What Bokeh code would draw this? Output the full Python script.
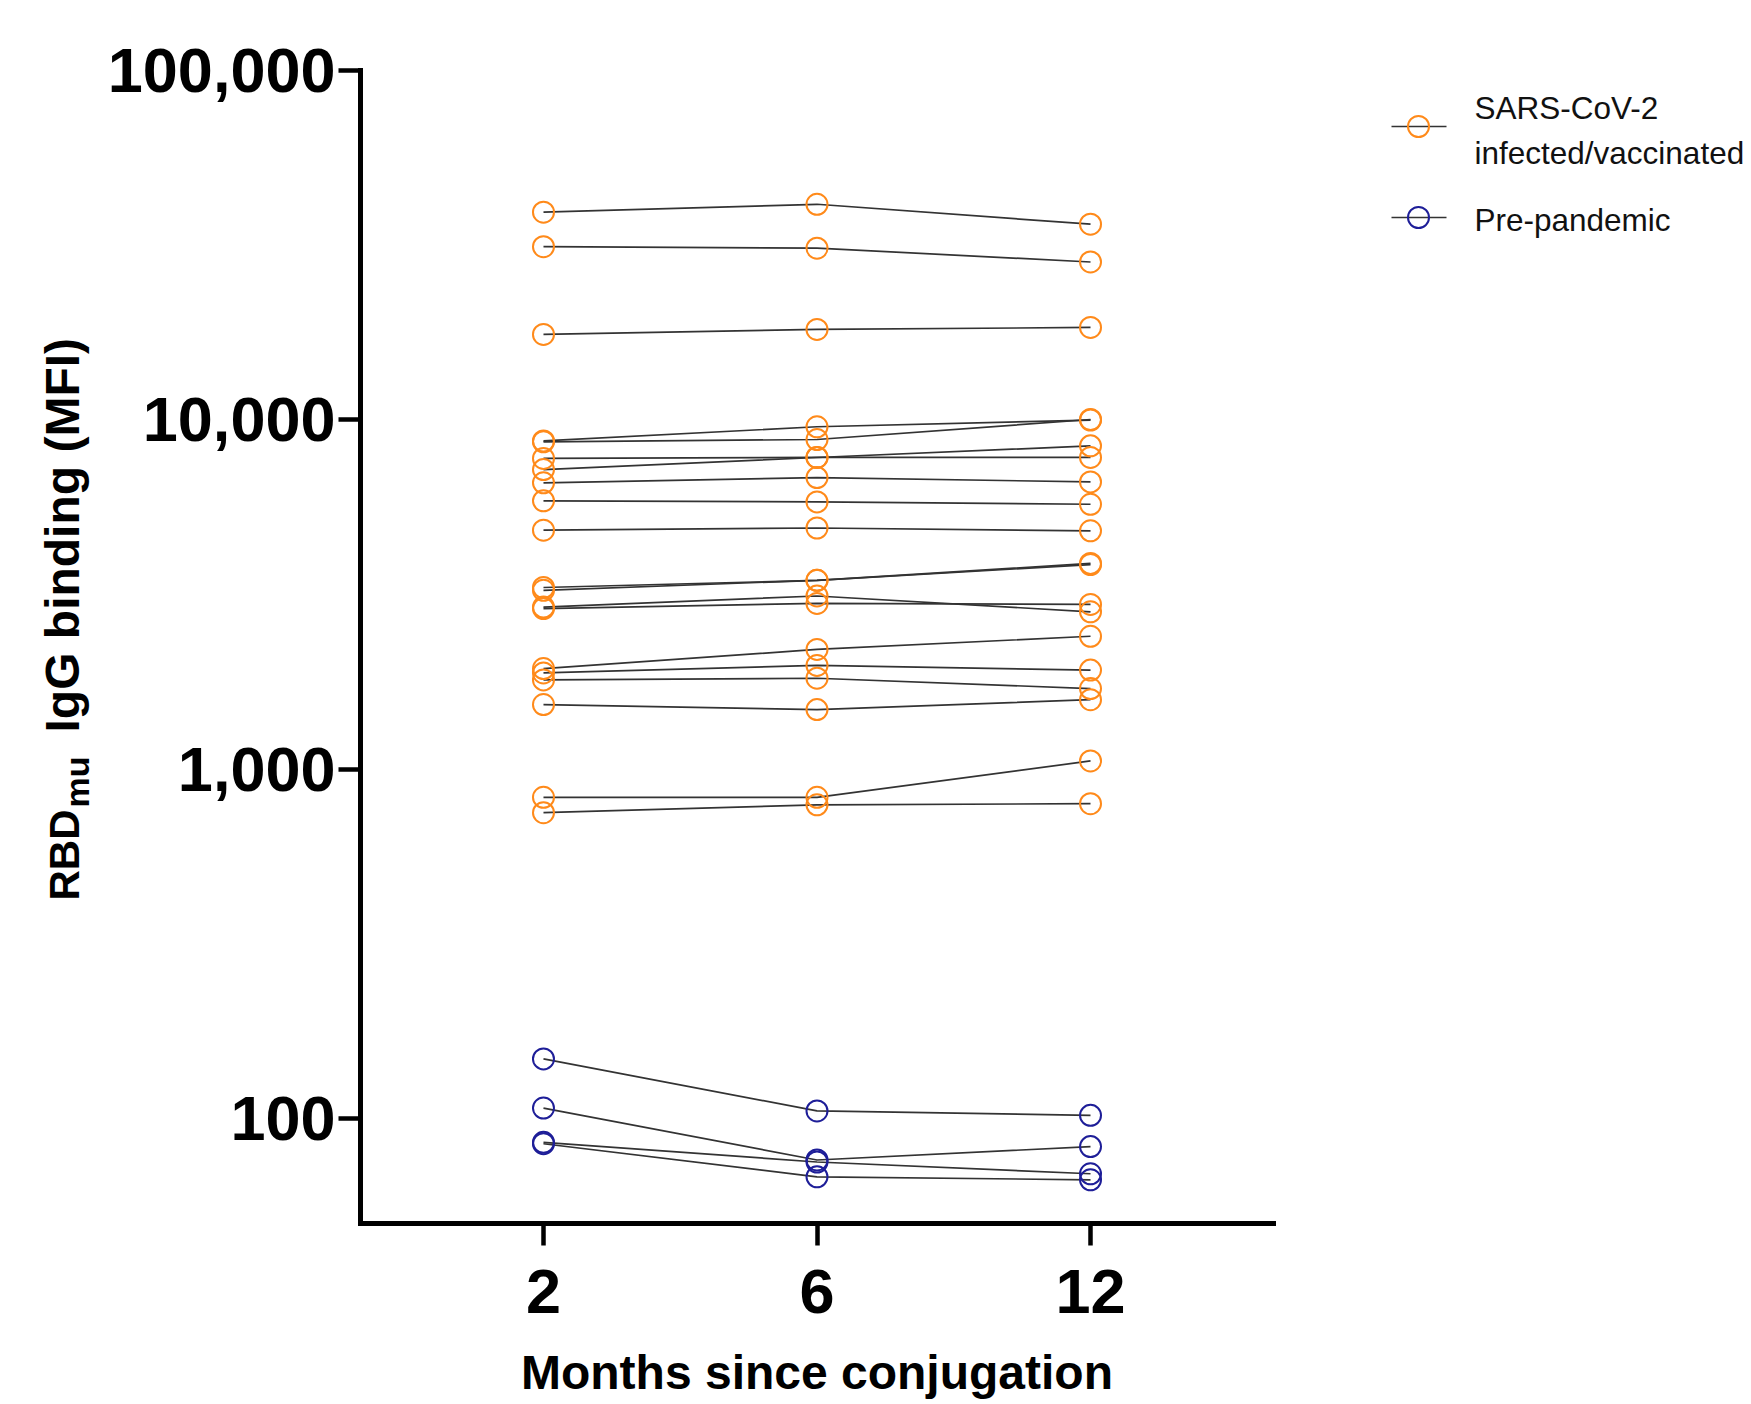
import math
from bokeh.plotting import figure
from bokeh.layouts import row
from bokeh.models import Range1d, FixedTicker, NumeralTickFormatter
from bokeh.core.properties import value
from bokeh.embed import file_html
from bokeh.resources import INLINE

# ---------------- data ----------------
months = ["2", "6", "12"]

# SARS-CoV-2 infected/vaccinated (one value per subject, per time point)
infected_m2 = [39300, 31300, 17550, 8700, 8650, 7750, 7200, 6600, 5860, 4830,
               3310, 3250, 2910, 2880, 1940, 1885, 1800, 1530, 830, 750]
infected_m6 = [41400, 31000, 18140, 9550, 8780, 7800, 7800, 6830, 5820, 4900,
               3470, 3470, 3130, 2980, 2200, 1980, 1820, 1480, 830, 790]
infected_m12 = [36300, 28300, 18380, 9980, 10020, 7800, 8420, 6640, 5730, 4810,
                3880, 3850, 2820, 2960, 2400, 1920, 1700, 1580, 1055, 796]

# Pre-pandemic
prepandemic_m2 = [148, 107, 85.4, 84.6]
prepandemic_m6 = [105, 76, 75, 68]
prepandemic_m12 = [102, 83, 69.4, 66.7]

series_labels = ["SARS-CoV-2", "infected/vaccinated", "Pre-pandemic"]
y_ticks = [100, 1000, 10000, 100000]

ORANGE = "#FF8A1A"
BLUE = "#1E1E98"
LINE = "#333333"
FONT = "Liberation Sans"

H = 1404            # page height
TOP, BOTTOM = 70, 181   # shared frame borders (rows align their frames)

# ---------------- main plot ----------------
p = figure(width=1210, height=H,
           x_range=Range1d(-0.669, 2.669), y_range=Range1d(50, 100000),
           y_axis_type="log", toolbar_location=None, output_backend="svg",
           min_border_left=262, min_border_right=35,
           min_border_top=TOP, min_border_bottom=BOTTOM)
p.outline_line_color = None
p.xgrid.visible = False
p.ygrid.visible = False

xpos = list(range(len(months)))


def add_group(v2, v6, v12, color):
    xs = [xpos for _ in v2]
    ys = [[a, b, c] for a, b, c in zip(v2, v6, v12)]
    p.multi_line(xs=xs, ys=ys, line_color=LINE, line_width=1.7)
    sx = [xpos[0]] * len(v2) + [xpos[1]] * len(v6) + [xpos[2]] * len(v12)
    sy = list(v2) + list(v6) + list(v12)
    p.scatter(x=sx, y=sy, marker="circle", size=21, fill_color=None,
              line_color=color, line_width=2)


add_group(infected_m2, infected_m6, infected_m12, ORANGE)
add_group(prepandemic_m2, prepandemic_m6, prepandemic_m12, BLUE)

for ax in (p.xaxis[0], p.yaxis[0]):
    ax.axis_line_width = 5
    ax.axis_line_color = "black"
    ax.axis_line_cap = "square"
    ax.major_tick_line_width = 4.5
    ax.major_tick_line_color = "black"
    ax.major_tick_out = 22
    ax.major_tick_in = 0
    ax.minor_tick_line_color = None
    ax.major_label_text_font = FONT
    ax.major_label_text_font_style = "bold"
    ax.major_label_text_font_size = "63px"
    ax.major_label_text_color = "black"

p.xaxis[0].ticker = FixedTicker(ticks=xpos)
p.xaxis[0].major_label_overrides = {i: m for i, m in zip(xpos, months)}
p.xaxis[0].major_label_standoff = 24
p.xaxis[0].axis_label = "Months since conjugation"
p.xaxis[0].axis_label_text_font = FONT
p.xaxis[0].axis_label_text_font_style = "bold"
p.xaxis[0].axis_label_text_font_size = "48px"
p.xaxis[0].axis_label_text_color = "black"
p.xaxis[0].axis_label_standoff = 30

p.yaxis[0].ticker = FixedTicker(ticks=y_ticks)
p.yaxis[0].formatter = NumeralTickFormatter(format="0,0")
p.yaxis[0].major_label_standoff = 3


def aux_fig(x0, x1):
    # data coordinates == page pixel coordinates inside the aligned frame
    f = figure(width=x1 - x0, height=H, x_range=Range1d(x0, x1),
               y_range=Range1d(H - BOTTOM, TOP),
               toolbar_location=None, output_backend="svg",
               x_axis_location=None, y_axis_location=None,
               min_border_left=0, min_border_right=0,
               min_border_top=TOP, min_border_bottom=BOTTOM)
    f.outline_line_color = None
    f.xgrid.visible = False
    f.ygrid.visible = False
    return f


# ---------------- y-axis title (rotated, with subscript) ----------------
yt = aux_fig(0, 98)
yt.text(x=[64], y=[900], text=["RBD"], angle=math.pi / 2,
        text_font=value(FONT), text_font_style="bold", text_font_size="42px",
        text_align="left", text_baseline="alphabetic", text_color="black")
yt.text(x=[76], y=[807], text=["mu"], angle=math.pi / 2,
        text_font=value(FONT), text_font_style="bold", text_font_size="34px",
        text_align="left", text_baseline="alphabetic", text_color="black")
yt.text(x=[62], y=[732], text=["IgG binding (MFI)"], angle=math.pi / 2,
        text_font=value(FONT), text_font_style="bold", text_font_size="48px",
        text_align="left", text_baseline="alphabetic", text_color="black")

# ---------------- legend ----------------
lg = aux_fig(1308, 1751)
lg.multi_line(xs=[[1391, 1446], [1391, 1446]], ys=[[126, 126], [217, 217]],
              line_color=LINE, line_width=1.6)
lg.scatter(x=[1418], y=[126], marker="circle", size=21, fill_color=None,
           line_color=ORANGE, line_width=2)
lg.scatter(x=[1418], y=[217], marker="circle", size=21, fill_color=None,
           line_color=BLUE, line_width=2)
lg.text(x=[1474, 1474, 1474], y=[107, 152, 219], text=series_labels,
        text_font=value(FONT), text_font_size="31.5px", text_align="left",
        text_baseline="alphabetic", text_color="#111111")

layout = row(yt, p, lg)
open("out.html", "w").write(file_html(layout, INLINE))
